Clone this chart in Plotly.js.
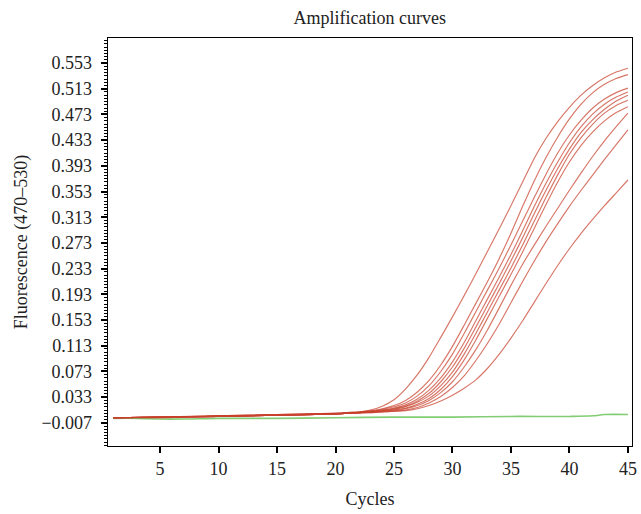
<!DOCTYPE html>
<html>
<head>
<meta charset="utf-8">
<script src="https://cdn.plot.ly/plotly-3.0.1.min.js"></script>
<style>html,body{margin:0;padding:0;background:#fff;}#chart{width:641px;height:514px;}</style>
</head>
<body>
<div id="chart"></div>
<script>
const cycles = [1,5,10,15,20,21,22,23,24,25,26,27,28,29,30,31,32,33,34,35,36,37,38,39,40,41,42,43,44,45];

const curveA = [0.001,0.002,0.004,0.006,0.008, 0.009,0.010,0.013,0.019,0.029,0.046,0.068,0.095,0.126,0.158,0.191,0.225,0.260,0.295,0.331,0.368,0.405,0.436,0.462,0.484,0.503,0.518,0.530,0.539,0.545];
const curveB = [0.001,0.002,0.004,0.006,0.008, 0.009,0.010,0.012,0.015,0.020,0.028,0.041,0.059,0.083,0.112,0.145,0.179,0.213,0.249,0.288,0.330,0.370,0.406,0.438,0.466,0.489,0.507,0.520,0.529,0.535];
const curveC = [0.001,0.002,0.004,0.005,0.008, 0.009,0.010,0.011,0.014,0.018,0.024,0.035,0.051,0.073,0.100,0.132,0.166,0.200,0.234,0.270,0.307,0.344,0.380,0.413,0.441,0.464,0.483,0.497,0.507,0.514];
const curveD = [0.001,0.002,0.003,0.005,0.007, 0.008,0.009,0.011,0.013,0.016,0.021,0.030,0.044,0.063,0.088,0.118,0.152,0.186,0.220,0.255,0.292,0.330,0.366,0.399,0.429,0.454,0.474,0.489,0.500,0.508];
const curveE = [0.001,0.002,0.003,0.005,0.007, 0.008,0.009,0.010,0.012,0.015,0.019,0.027,0.039,0.057,0.080,0.109,0.142,0.176,0.210,0.245,0.281,0.319,0.355,0.389,0.419,0.445,0.465,0.481,0.494,0.503];
const curveF = [0.001,0.002,0.003,0.005,0.007, 0.008,0.009,0.010,0.012,0.014,0.018,0.025,0.035,0.051,0.072,0.100,0.132,0.166,0.200,0.234,0.270,0.307,0.344,0.379,0.411,0.437,0.458,0.475,0.487,0.495];
const curveG = [0.001,0.002,0.003,0.005,0.007, 0.008,0.009,0.010,0.011,0.013,0.016,0.022,0.031,0.045,0.065,0.091,0.122,0.156,0.190,0.224,0.259,0.296,0.333,0.368,0.399,0.425,0.446,0.463,0.476,0.485];
const curveH = [0.001,0.002,0.003,0.005,0.007, 0.008,0.009,0.010,0.011,0.012,0.015,0.020,0.028,0.040,0.057,0.080,0.107,0.138,0.172,0.207,0.240,0.270,0.299,0.327,0.355,0.382,0.408,0.432,0.454,0.475];
const curveI = [0.001,0.001,0.003,0.005,0.007, 0.008,0.009,0.009,0.010,0.011,0.013,0.017,0.024,0.034,0.048,0.066,0.090,0.117,0.147,0.180,0.213,0.245,0.275,0.303,0.330,0.355,0.379,0.403,0.426,0.449];
const curveJ = [0.001,0.001,0.003,0.005,0.007, 0.008,0.008,0.009,0.010,0.011,0.012,0.015,0.020,0.027,0.036,0.047,0.060,0.078,0.100,0.125,0.152,0.181,0.210,0.238,0.264,0.288,0.310,0.331,0.351,0.371];

const greenCycles = [1,3,5,7,10,15,20,25,30,35,40,42,43,45];
const greenValues = [0.000,0.000,-0.001,-0.001,0.000,0.000,0.001,0.002,0.002,0.003,0.003,0.004,0.006,0.006];

const xTicks = [5,10,15,20,25,30,35,40,45];

const redCurves = [curveA,curveB,curveC,curveD,curveE,curveF,curveG,curveH,curveI,curveJ];
const serif = 'Liberation Serif, Times New Roman, serif';

const traces = [];
traces.push({x: greenCycles, y: greenValues, mode: 'lines', line: {color: 'rgb(130,205,115)', width: 1.6, shape: 'spline'}, hoverinfo: 'skip'});
redCurves.forEach(c => traces.push({x: cycles, y: c, mode: 'lines', line: {color: 'rgba(200,65,45,0.72)', width: 1.15, shape: 'spline', smoothing: 0.6}, hoverinfo: 'skip'}));

const layout = {
  width: 641, height: 514,
  margin: {l: 108, r: 9, t: 38, b: 68},
  paper_bgcolor: '#fff', plot_bgcolor: '#fff',
  showlegend: false,
  font: {family: serif, size: 18, color: '#222'},
  title: {text: 'Amplification curves', x: 0.577, xanchor: 'center', y: 0.965, yanchor: 'middle', font: {family: serif, size: 18, color: '#222'}},
  xaxis: {
    range: [0.55, 45.35], tickvals: xTicks, ticks: 'outside', ticklen: 6, tickwidth: 2, tickcolor: '#000',
    showline: true, linecolor: '#000', linewidth: 1.3, mirror: true, showgrid: false, zeroline: false,
    title: {text: 'Cycles', standoff: 14, font: {family: serif, size: 18, color: '#222'}},
    tickfont: {family: serif, size: 18, color: '#222'}
  },
  yaxis: {
    range: [-0.043, 0.592], tick0: -0.007, dtick: 0.04, tickformat: '.3f',
    ticks: 'outside', ticklen: 6, tickwidth: 2, tickcolor: '#000', ticklabelstandoff: 5,
    minor: {tick0: -0.007, dtick: 0.005, ticks: 'outside', ticklen: 3, tickwidth: 1, tickcolor: '#000', showgrid: false},
    showline: true, linecolor: '#000', linewidth: 1.3, mirror: true, showgrid: false, zeroline: false,
    title: {text: 'Fluorescence (470–530)', standoff: 9, font: {family: serif, size: 18, color: '#222'}},
    tickfont: {family: serif, size: 18, color: '#222'}
  }
};

Plotly.newPlot('chart', traces, layout, {displayModeBar: false, staticPlot: true});
</script>
</body>
</html>
